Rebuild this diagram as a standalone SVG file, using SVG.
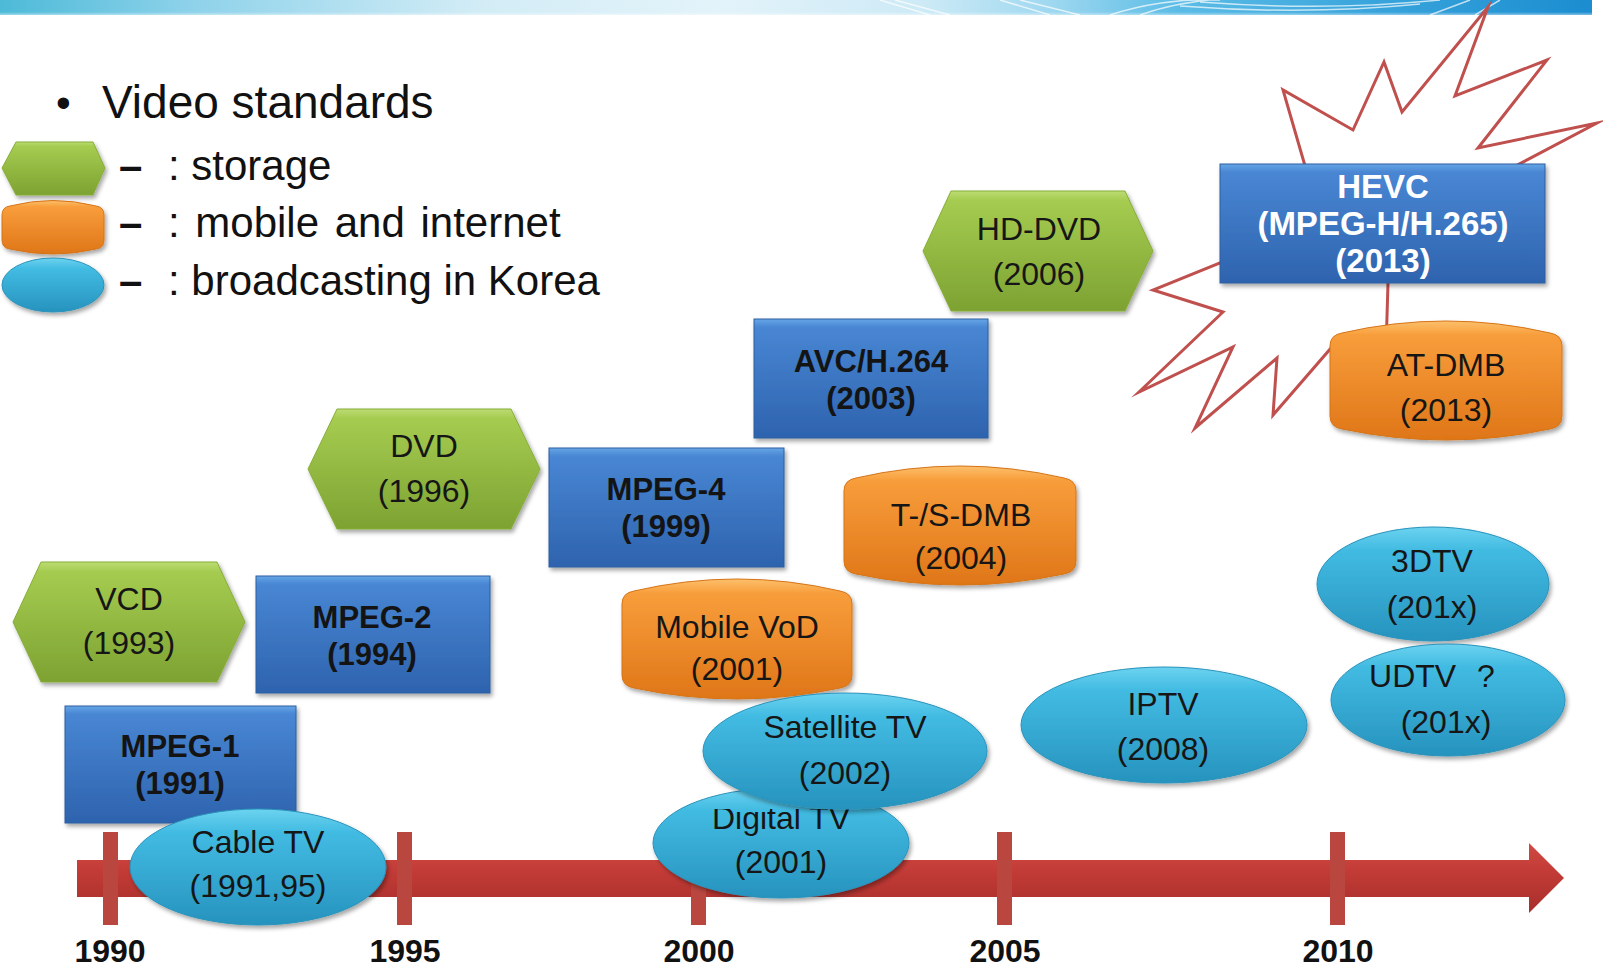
<svg xmlns="http://www.w3.org/2000/svg" width="1603" height="968" viewBox="0 0 1603 968">
  <defs>
    <linearGradient id="band" x1="0" y1="0" x2="1" y2="0">
      <stop offset="0" stop-color="#4dbad8"/>
      <stop offset="0.12" stop-color="#8ed2ea"/>
      <stop offset="0.3" stop-color="#d2ecf6"/>
      <stop offset="0.45" stop-color="#e3f3fa"/>
      <stop offset="0.58" stop-color="#cdeaf6"/>
      <stop offset="0.66" stop-color="#9fd8f0"/>
      <stop offset="0.74" stop-color="#5bbce6"/>
      <stop offset="0.86" stop-color="#3aa5dc"/>
      <stop offset="1" stop-color="#1b8dd0"/>
    </linearGradient>
    <linearGradient id="bandFade" x1="0" y1="0" x2="0" y2="1">
      <stop offset="0" stop-color="#fff" stop-opacity="0"/>
      <stop offset="0.75" stop-color="#fff" stop-opacity="0"/>
      <stop offset="1" stop-color="#fff" stop-opacity="0.6"/>
    </linearGradient>
    <linearGradient id="green" x1="0" y1="0" x2="0" y2="1">
      <stop offset="0" stop-color="#bcdb72"/>
      <stop offset="0.08" stop-color="#a5cc50"/>
      <stop offset="1" stop-color="#7da232"/>
    </linearGradient>
    <linearGradient id="blue" x1="0" y1="0" x2="0" y2="1">
      <stop offset="0" stop-color="#66a6e6"/>
      <stop offset="0.07" stop-color="#4886d3"/>
      <stop offset="1" stop-color="#2e63ae"/>
    </linearGradient>
    <linearGradient id="orange" x1="0" y1="0" x2="0" y2="1">
      <stop offset="0" stop-color="#fcc06a"/>
      <stop offset="0.12" stop-color="#f89d3b"/>
      <stop offset="1" stop-color="#df7618"/>
    </linearGradient>
    <linearGradient id="cyan" x1="0" y1="0" x2="0" y2="1">
      <stop offset="0" stop-color="#6cd3f0"/>
      <stop offset="0.2" stop-color="#42bbe2"/>
      <stop offset="1" stop-color="#2693be"/>
    </linearGradient>
    <linearGradient id="red" x1="0" y1="0" x2="0" y2="1">
      <stop offset="0" stop-color="#d04b45"/>
      <stop offset="0.4" stop-color="#c33b36"/>
      <stop offset="1" stop-color="#a72f2b"/>
    </linearGradient>
    <filter id="shadow" x="-10%" y="-10%" width="125%" height="130%">
      <feDropShadow dx="2" dy="3" stdDeviation="2" flood-color="#000" flood-opacity="0.35"/>
    </filter>
    <clipPath id="bandClip">
      <rect x="0" y="0" width="1592" height="15"/>
    </clipPath>
    <!-- upper edge of the Digital TV caption sits under the Satellite TV shape -->
    <clipPath id="digitalClip">
      <rect x="600" y="809" width="400" height="120"/>
    </clipPath>
    <style>
      .t { font-family: "Liberation Sans", Arial, sans-serif; font-size: 32px; fill: #161616; text-anchor: middle; }
      .b { font-family: "Liberation Sans", Arial, sans-serif; font-size: 31px; font-weight: bold; fill: #141414; text-anchor: middle; }
      .w { font-family: "Liberation Sans", Arial, sans-serif; font-size: 33px; font-weight: bold; fill: #ffffff; text-anchor: middle; }
      .yr { font-family: "Liberation Sans", Arial, sans-serif; font-size: 32px; font-weight: bold; fill: #111; text-anchor: middle; }
      .lg { font-family: "Liberation Sans", Arial, sans-serif; font-size: 42px; fill: #111; }
      .head { font-family: "Liberation Sans", Arial, sans-serif; font-size: 46px; fill: #111; }
      .dash { font-family: "Liberation Sans", Arial, sans-serif; font-size: 42px; font-weight: bold; fill: #111; }
      .hex { fill: url(#green); stroke: #86ad38; stroke-width: 1; }
      .box { fill: url(#blue); stroke: #2d5f9f; stroke-width: 1; }
      .pill { fill: url(#orange); stroke: #d57418; stroke-width: 1; }
      .oval { fill: url(#cyan); stroke: #2a93bb; stroke-width: 1; }
      .tick { fill: #b9463f; }
      .streak { fill: none; stroke: #ffffff; stroke-opacity: 0.7; stroke-width: 1.5; }
    </style>
  </defs>

  <rect x="0" y="0" width="1603" height="968" fill="#ffffff"/>

  <!-- title band -->
  <g id="header">
    <rect x="0" y="0" width="1592" height="15" fill="url(#band)"/>
    <g clip-path="url(#bandClip)">
      <path class="streak" d="M880 0 L930 15 M895 0 L950 15 M1000 0 L1050 15 M1020 0 L1080 15"/>
      <path class="streak" d="M1110 15 C1140 5 1180 -2 1220 0 M1140 15 C1170 4 1200 0 1230 -2"/>
      <path class="streak" d="M1180 6 C1260 12 1340 12 1420 4 M1200 2 C1280 8 1360 8 1440 0"/>
      <path class="streak" d="M1430 15 L1470 0 M1475 15 L1500 0"/>
    </g>
    <rect x="0" y="0" width="1592" height="16" fill="url(#bandFade)"/>
  </g>

  <!-- legend -->
  <g id="legend">
    <text x="56" y="117" class="lg">•</text>
    <text x="102" y="118" class="head">Video standards</text>
    <polygon class="hex" points="2,168 16,142 93,142 105,168 93,195 16,195" filter="url(#shadow)"/>
    <path class="pill" filter="url(#shadow)" d="M2,215 Q2,207 10,206 Q53,195 96,206 Q104,207 104,215 L104,240 Q104,248 96,249 Q53,259 10,249 Q2,248 2,240 Z"/>
    <ellipse class="oval" cx="53" cy="285" rx="51" ry="27" filter="url(#shadow)"/>
    <text x="119" y="180" class="dash">–</text>
    <text x="168" y="180" class="lg">: storage</text>
    <text x="119" y="237" class="dash">–</text>
    <text x="168" y="237" class="lg" word-spacing="4">: mobile and internet</text>
    <text x="119" y="295" class="dash">–</text>
    <text x="168" y="295" class="lg">: broadcasting in Korea</text>
  </g>

  <!-- starburst behind HEVC -->
  <g id="burst">
    <polygon fill="none" stroke="#c0504d" stroke-width="3" stroke-linejoin="miter" stroke-miterlimit="20"
      points="1312,190 1283,90 1353,130 1384,62 1402,112 1488,7 1455,96 1547,60 1478,148 1597,123 1470,190 1388,283 1386,350 1338,340 1273,415 1277,358 1195,428 1233,347 1139,392 1223,312 1153,290 1220,263 1265,240"/>
  </g>

  <!-- timeline axis -->
  <g id="timeline">
    <path d="M77,860 H1529 V843 L1564,878 L1529,913 V897 H77 Z" fill="url(#red)"/>
    <rect class="tick" x="103" y="832" width="15" height="93"/>
    <rect class="tick" x="397" y="832" width="15" height="93"/>
    <rect class="tick" x="691" y="832" width="15" height="93"/>
    <rect class="tick" x="997" y="832" width="15" height="93"/>
    <rect class="tick" x="1330" y="832" width="15" height="93"/>
    <text class="yr" x="110" y="962">1990</text>
    <text class="yr" x="405" y="962">1995</text>
    <text class="yr" x="699" y="962">2000</text>
    <text class="yr" x="1005" y="962">2005</text>
    <text class="yr" x="1338" y="962">2010</text>
  </g>

  <!-- storage -->
  <g id="vcd">
    <polygon class="hex" filter="url(#shadow)" points="13,622 41,562 217,562 245,622 217,682 41,682"/>
    <text class="t" x="129" y="610">VCD</text>
    <text class="t" x="129" y="654">(1993)</text>
  </g>
  <g id="dvd">
    <polygon class="hex" filter="url(#shadow)" points="308,469 337,409 511,409 540,469 511,529 337,529"/>
    <text class="t" x="424" y="457">DVD</text>
    <text class="t" x="424" y="502">(1996)</text>
  </g>
  <g id="hddvd">
    <polygon class="hex" filter="url(#shadow)" points="923,251 951,191 1125,191 1153,251 1125,311 951,311"/>
    <text class="t" x="1039" y="240">HD-DVD</text>
    <text class="t" x="1039" y="285">(2006)</text>
  </g>

  <!-- coding standards -->
  <g id="mpeg1">
    <rect class="box" filter="url(#shadow)" x="65" y="706" width="231" height="117"/>
    <text class="b" x="180" y="757">MPEG-1</text>
    <text class="b" x="180" y="794">(1991)</text>
  </g>
  <g id="mpeg2">
    <rect class="box" filter="url(#shadow)" x="256" y="576" width="234" height="117"/>
    <text class="b" x="372" y="628">MPEG-2</text>
    <text class="b" x="372" y="665">(1994)</text>
  </g>
  <g id="mpeg4">
    <rect class="box" filter="url(#shadow)" x="549" y="448" width="235" height="119"/>
    <text class="b" x="666" y="500">MPEG-4</text>
    <text class="b" x="666" y="537">(1999)</text>
  </g>
  <g id="avc">
    <rect class="box" filter="url(#shadow)" x="754" y="319" width="234" height="119"/>
    <text class="b" x="871" y="372">AVC/H.264</text>
    <text class="b" x="871" y="409">(2003)</text>
  </g>
  <g id="hevc">
    <rect class="box" filter="url(#shadow)" x="1220" y="164" width="325" height="119"/>
    <text class="w" x="1383" y="198">HEVC</text>
    <text class="w" x="1383" y="235">(MPEG-H/H.265)</text>
    <text class="w" x="1383" y="272">(2013)</text>
  </g>

  <!-- mobile and internet -->
  <g id="mobilevod">
    <path class="pill" filter="url(#shadow)" d="M622,604 Q622,593 634,591 Q737,567 840,591 Q852,593 852,604 L852,675 Q852,686 840,688 Q737,710 634,688 Q622,686 622,675 Z"/>
    <text class="t" x="737" y="638">Mobile VoD</text>
    <text class="t" x="737" y="680">(2001)</text>
  </g>
  <g id="tsdmb">
    <path class="pill" filter="url(#shadow)" d="M844,491 Q844,480 856,478 Q960,454 1064,478 Q1076,480 1076,491 L1076,561 Q1076,572 1064,574 Q960,596 856,574 Q844,572 844,561 Z"/>
    <text class="t" x="961" y="526">T-/S-DMB</text>
    <text class="t" x="961" y="569">(2004)</text>
  </g>
  <g id="atdmb">
    <path class="pill" filter="url(#shadow)" d="M1330,346 Q1330,335 1342,333 Q1446,309 1550,333 Q1562,335 1562,346 L1562,416 Q1562,427 1550,429 Q1446,451 1342,429 Q1330,427 1330,416 Z"/>
    <text class="t" x="1446" y="376">AT-DMB</text>
    <text class="t" x="1446" y="421">(2013)</text>
  </g>

  <!-- broadcasting -->
  <g id="cabletv">
    <ellipse class="oval" filter="url(#shadow)" cx="258" cy="867" rx="128" ry="58"/>
    <text class="t" x="258" y="853">Cable TV</text>
    <text class="t" x="258" y="897">(1991,95)</text>
  </g>
  <g id="digitaltv">
    <ellipse class="oval" filter="url(#shadow)" cx="781" cy="843" rx="128" ry="55"/>
    <text class="t" x="781" y="829" clip-path="url(#digitalClip)">Digital TV</text>
    <text class="t" x="781" y="873">(2001)</text>
  </g>
  <g id="satellitetv">
    <ellipse class="oval" filter="url(#shadow)" cx="845" cy="751" rx="142" ry="58"/>
    <text class="t" x="845" y="738">Satellite TV</text>
    <text class="t" x="845" y="784">(2002)</text>
  </g>
  <g id="iptv">
    <ellipse class="oval" filter="url(#shadow)" cx="1164" cy="725" rx="143" ry="58"/>
    <text class="t" x="1163" y="715">IPTV</text>
    <text class="t" x="1163" y="760">(2008)</text>
  </g>
  <g id="tv3d">
    <ellipse class="oval" filter="url(#shadow)" cx="1433" cy="584" rx="116" ry="57"/>
    <text class="t" x="1432" y="572">3DTV</text>
    <text class="t" x="1432" y="618">(201x)</text>
  </g>
  <g id="udtv">
    <ellipse class="oval" filter="url(#shadow)" cx="1448" cy="700" rx="117" ry="56"/>
    <text class="t" x="1432" y="687" word-spacing="12">UDTV ?</text>
    <text class="t" x="1446" y="733">(201x)</text>
  </g>
</svg>
